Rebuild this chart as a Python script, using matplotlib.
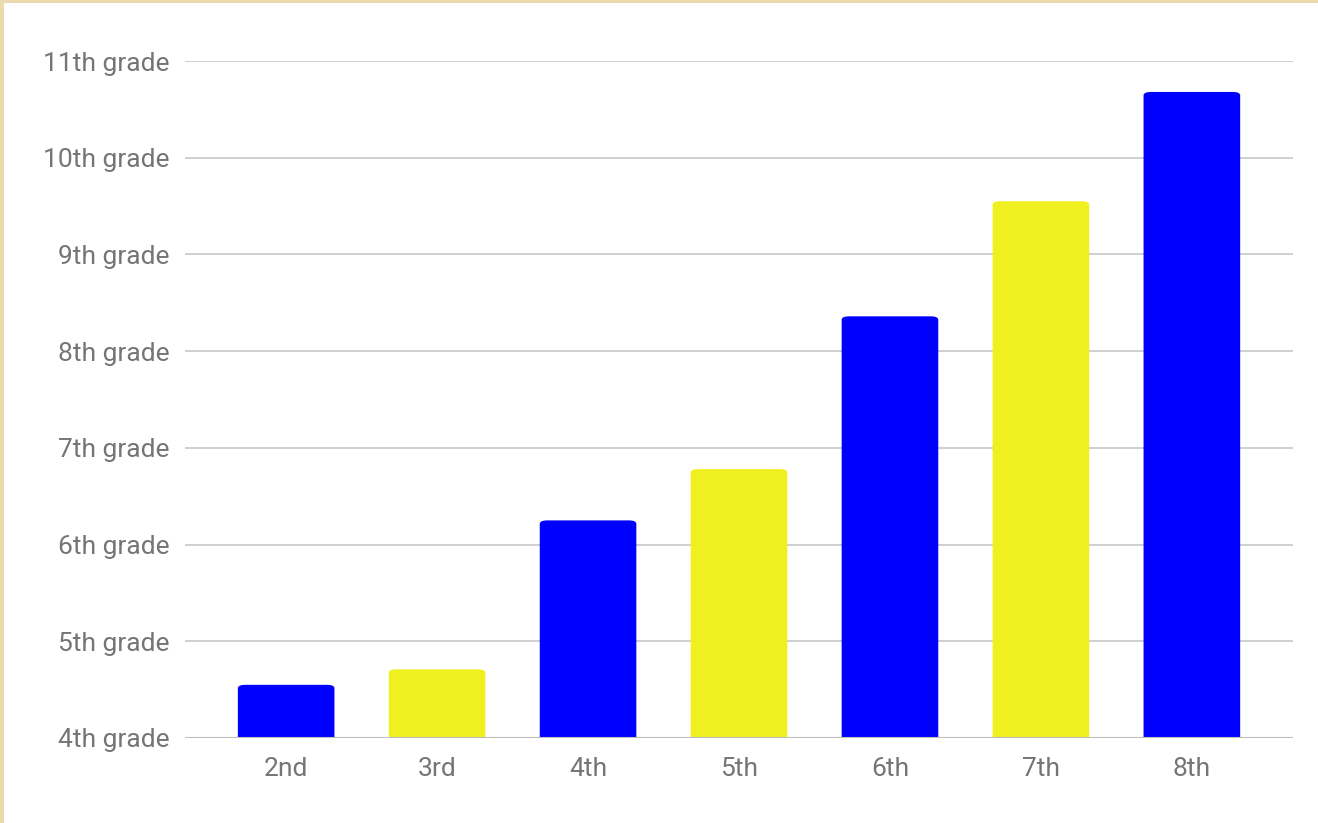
import matplotlib
matplotlib.use('Agg')
import matplotlib.pyplot as plt
from matplotlib.patches import Rectangle, FancyBboxPatch

# data
grades = ['2nd', '3rd', '4th', '5th', '6th', '7th', '8th']
levels = [4.55, 4.71, 6.25, 6.78, 8.36, 9.55, 10.68]
colors = ['#0000ff', '#f0f020', '#0000ff', '#f0f020', '#0000ff', '#f0f020', '#0000ff']
ytick_vals = [4, 5, 6, 7, 8, 9, 10, 11]
ytick_labels = ['4th grade', '5th grade', '6th grade', '7th grade',
                '8th grade', '9th grade', '10th grade', '11th grade']

plt.rcParams['font.family'] = ['Roboto', 'DejaVu Sans']

fig = plt.figure(figsize=(13.18, 8.23), dpi=100)
fig.patch.set_facecolor('#ecd9ae')
# white card inside the tan border
fig.patches.append(Rectangle((4 / 1318, 0), 1, 1 - 3 / 823, transform=fig.transFigure,
                             facecolor='white', edgecolor='none', zorder=-10))

ax = fig.add_axes([185 / 1318, 1 - 738 / 823, (1293 - 185) / 1318, (738 - 61) / 823])
ax.set_facecolor('none')

width = 0.64
bars = ax.bar(range(len(grades)), levels, width=width, bottom=0, color=colors, zorder=3)
# swap plain bars for ones with slightly rounded tops
for b, c in zip(bars, colors):
    b.set_visible(False)
    x0 = b.get_x()
    h = b.get_height()
    ax.add_patch(FancyBboxPatch((x0, 0), width, h,
                                boxstyle='round,pad=0,rounding_size=0.05',
                                mutation_aspect=1.0 / 1.4,
                                facecolor=c, edgecolor='none', zorder=3))

ax.set_xlim(-0.67, 6.67)
ax.set_ylim(4, 11)
ax.set_yticks(ytick_vals)
ax.set_yticklabels(ytick_labels)
ax.set_xticks(range(len(grades)))
ax.set_xticklabels(grades)

ax.grid(axis='y', color='#cccccc', linewidth=1.3, zorder=0)
ax.axhline(4, color='#bdbdbd', linewidth=1.5, zorder=4)
for s in ax.spines.values():
    s.set_visible(False)
ax.tick_params(axis='both', length=0, colors='#757575', labelsize=19)
ax.tick_params(axis='y', pad=11)
ax.tick_params(axis='x', pad=14)

fig.savefig('out.png', dpi=100, facecolor=fig.get_facecolor())
